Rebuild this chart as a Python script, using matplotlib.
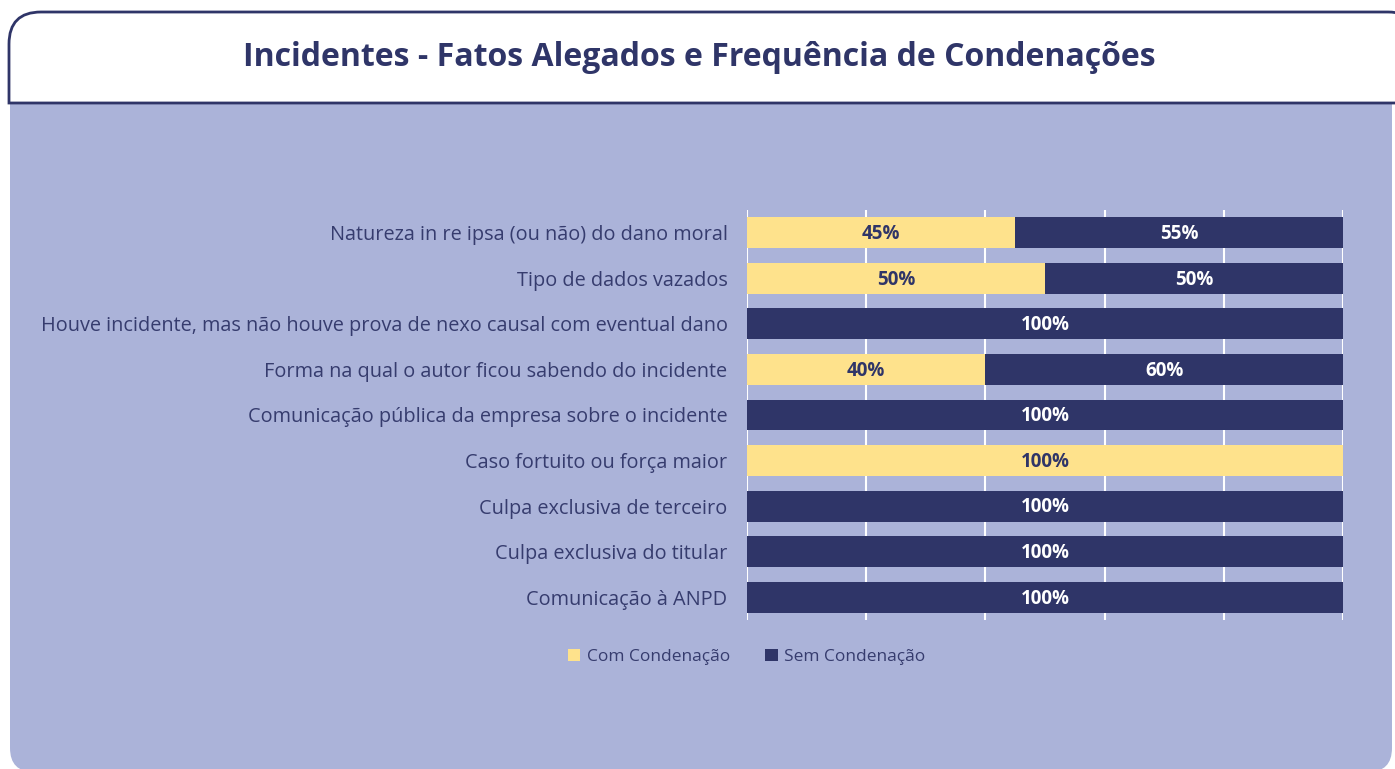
import matplotlib.pyplot as plt
from matplotlib.patches import PathPatch
from matplotlib.path import Path
from matplotlib.transforms import Affine2D

plt.rcParams['font.family'] = ['Open Sans', 'DejaVu Sans']

categories = [
    'Natureza in re ipsa (ou não) do dano moral',
    'Tipo de dados vazados',
    'Houve incidente, mas não houve prova de nexo causal com eventual dano',
    'Forma na qual o autor ficou sabendo do incidente',
    'Comunicação pública da empresa sobre o incidente',
    'Caso fortuito ou força maior',
    'Culpa exclusiva de terceiro',
    'Culpa exclusiva do titular',
    'Comunicação à ANPD',
]
com_condenacao = [45, 50, 0, 40, 0, 100, 0, 0, 0]
sem_condenacao = [55, 50, 100, 60, 100, 0, 100, 100, 100]
series_names = ['Com Condenação', 'Sem Condenação']

NAVY = '#2f3568'
YELLOW = '#fee28c'
LAVENDER = '#abb3d9'
TEXT = '#363c6e'

W, H = 1395, 769
fig = plt.figure(figsize=(W / 100, H / 100), dpi=100)
fig.patch.set_facecolor('white')

# pixel coords (y down) -> figure fraction
px = Affine2D().scale(1 / W, -1 / H).translate(0, 1) + fig.transFigure


def box_path(x0, y0, x1, y1, r, top=True):
    # rectangle with two rounded corners, top or bottom
    if top:
        verts = [(x0, y1), (x0, y0 + r), (x0, y0), (x0 + r, y0), (x1 - r, y0),
                 (x1, y0), (x1, y0 + r), (x1, y1), (x0, y1)]
    else:
        verts = [(x0, y0), (x0, y1 - r), (x0, y1), (x0 + r, y1), (x1 - r, y1),
                 (x1, y1), (x1, y1 - r), (x1, y0), (x0, y0)]
    codes = [Path.MOVETO, Path.LINETO, Path.CURVE3, Path.CURVE3, Path.LINETO,
             Path.CURVE3, Path.CURVE3, Path.LINETO, Path.CLOSEPOLY]
    return Path(verts, codes)


fig.patches.append(PathPatch(box_path(10, 104, 1392, 772, 24, top=False), transform=px,
                             facecolor=LAVENDER, edgecolor='none', zorder=-3))
fig.patches.append(PathPatch(box_path(9, 12, 1420, 103, 32, top=True), transform=px,
                             facecolor='white', edgecolor=NAVY, linewidth=2, zorder=-2))

fig.text(699 / W, 1 - 57 / H, 'Incidentes - Fatos Alegados e Frequência de Condenações',
         ha='center', va='center', fontsize=23, fontweight='bold', color=NAVY)

ax = fig.add_axes([747 / W, 1 - 620 / H, 596 / W, 410 / H])
ax.set_facecolor('none')

y = list(range(len(categories)))
b1 = ax.barh(y, com_condenacao, height=0.68, color=YELLOW, label=series_names[0], zorder=3)
b2 = ax.barh(y, sem_condenacao, left=com_condenacao, height=0.68, color=NAVY,
             label=series_names[1], zorder=3)

for i in y:
    if com_condenacao[i] > 0:
        ax.text(com_condenacao[i] / 2, i + 0.03, f'{com_condenacao[i]}%', ha='center',
                va='center', fontsize=13.5, fontweight='bold', color=NAVY, zorder=4)
    if sem_condenacao[i] > 0:
        ax.text(com_condenacao[i] + sem_condenacao[i] / 2, i + 0.03, f'{sem_condenacao[i]}%',
                ha='center', va='center', fontsize=13.5, fontweight='bold', color='white',
                zorder=4)

ax.set_xlim(0, 100)
ax.set_ylim(len(categories) - 0.5, -0.5)
ax.set_xticks([0, 20, 40, 60, 80, 100])
ax.set_xticklabels([])
ax.grid(axis='x', color='white', linewidth=1.5, zorder=0)
ax.set_yticks(y)
ax.set_yticklabels(categories, fontsize=14.3, color=TEXT)
ax.tick_params(axis='both', length=0, pad=14)
for s in ax.spines.values():
    s.set_visible(False)

fig.legend(handles=[b1, b2], labels=series_names, loc='center',
           bbox_to_anchor=(747 / W, 1 - 657 / H), ncol=2, frameon=False,
           fontsize=12.5, labelcolor=TEXT, handlelength=0.7, handleheight=0.7,
           handletextpad=0.4, columnspacing=2.0)

fig.savefig('out.png', dpi=100, facecolor=fig.get_facecolor())
